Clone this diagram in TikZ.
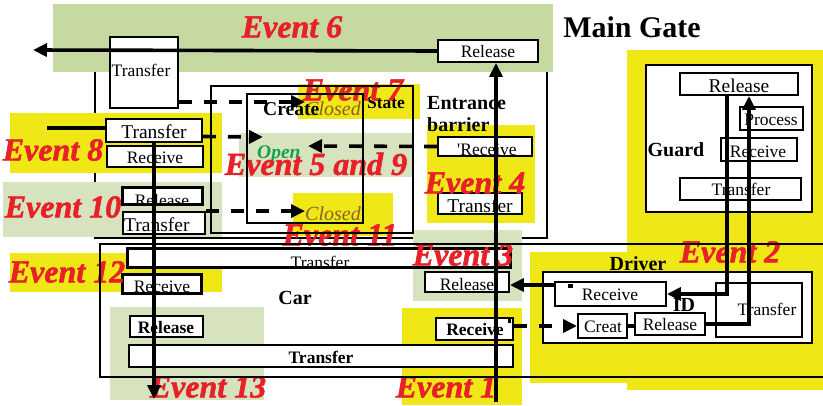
\documentclass[tikz,border=0pt]{standalone}
\usepackage{fontspec}
\setmainfont{Liberation Serif}
\newfontfamily\evfam[BoldItalicFeatures={FakeBold=1.6}]{Liberation Serif}
\usetikzlibrary{arrows.meta}
\definecolor{ylw}{RGB}{240,232,22}
\definecolor{gTop}{RGB}{197,217,161}
\definecolor{gLt}{RGB}{214,227,190}
\definecolor{evred}{RGB}{232,32,40}
\definecolor{brn}{RGB}{140,95,40}
\definecolor{opgreen}{RGB}{20,160,80}
\newcommand{\lfA}{\fontsize{17.5pt}{18pt}\selectfont}
\newcommand{\lfAA}{\fontsize{19.5pt}{20pt}\selectfont}
\newcommand{\lfB}{\fontsize{20pt}{21pt}\selectfont\bfseries}
\newcommand{\lfBs}{\fontsize{17.5pt}{18pt}\selectfont\bfseries}
\newcommand{\lfEv}{\evfam\fontsize{32pt}{32pt}\selectfont\bfseries\itshape}
\newcommand{\lfMG}{\fontsize{30pt}{30pt}\selectfont\bfseries}
\newcommand{\bx}[7][]{\node[box,minimum width={(#5-#3)*1pt},minimum height={(#6-#4)*1pt},#1] (#2) at ({(#3+#5)/2},{(#4+#6)/2}) {#7};}
\begin{document}
\begin{tikzpicture}[x=1pt,y=-1pt,
  box/.style={draw,line width=1.9pt,fill=white,inner sep=0pt},
  lbl/.style={inner sep=0pt,font=\lfA,anchor=base},
  ev/.style={inner sep=0pt,text=evred,font=\lfEv},
  conn/.style={line width=3.6pt},
  arr/.style={conn,-{Triangle[length=14pt,width=13pt]}},
  darr/.style={arr,dash pattern=on 13pt off 12pt}]
\useasboundingbox (0,0) rectangle (823,405);
% main gate frame
\bx[fill=none,line width=1.6pt]{mg}{95}{30}{547}{238}{}
% backgrounds
\fill[gTop] (53,4) rectangle (553,72);
\fill[ylw] (298,84) rectangle (420,119);
\fill[gLt] (239,133) rectangle (414,177);
\fill[ylw] (293,193) rectangle (393,236);
\fill[ylw] (427,125) rectangle (535,223);
\fill[ylw] (10,113) rectangle (222,173);
\fill[gLt] (3,182) rectangle (222,237);
\fill[ylw] (10,253) rectangle (222,292);
\fill[gLt] (110,307) rectangle (264,400);
\fill[gLt] (413,230) rectangle (522,301);
\fill[ylw] (402,308) rectangle (522,405);
\fill[ylw] (627,50) rectangle (823,390);
\fill[ylw] (530,252) rectangle (627,383);
% title
\node[inner sep=0pt,font=\lfMG] (mgt) at (632,27) {Main Gate};
% guard
\bx[line width=2.2pt]{guard}{646}{65}{812}{212}{}
\bx{gRel}{680}{73}{798}{95}{}
\node[lbl,font=\lfAA] (lgRel) at (739,92) {Release};
\bx{gProc}{740}{107}{803}{130}{}
\node[lbl] (lgProc) at (771,125) {Process};
\bx{gRec}{721}{138}{797}{161}{}
\node[lbl] (lgRec) at (758,157) {Receive};
\bx{gTr}{680}{178}{801}{200}{}
\node[lbl] (lgTr) at (741,195) {Transfer};
\node[inner sep=0pt,font=\lfB] (guardt) at (676,150) {Guard};
% driver
\bx[line width=2.2pt]{drv}{543}{272}{812}{343}{}
\node[inner sep=0pt,font=\lfB] (drvt) at (638,264) {Driver};
\bx{dRec}{555}{282}{666}{306}{}
\node[lbl] (ldRec) at (610,300) {Receive};
\bx{idb}{716}{283}{802}{337}{}
\node[lbl] (lidb) at (767,315) {Transfer};
\node[inner sep=0pt,font=\lfB] (idt) at (684,305) {ID};
\bx{creat}{578}{314}{627}{338}{}
\node[lbl] (lcreat) at (603,332) {Creat};
\bx{dRel}{635}{313}{705}{335}{}
\node[lbl] (ldRel) at (670,330) {Release};
\fill (568,284) rectangle (573,288);
% top / left boxes
\bx{trTop}{110}{37}{178}{108}{}
\node[lbl] (ltrTop) at (141,76) {Transfer};
\bx{relTop}{438}{40}{538}{62}{}
\node[lbl] (lrelTop) at (488,57) {Release};
\bx{tr8}{106}{119}{202}{142}{}
\node[lbl,font=\lfAA] (ltr8) at (154,138) {Transfer};
\bx{rc8}{107}{146}{203}{167}{}
\node[lbl] (lrc8) at (155,163) {Receive};
\bx{rl10}{123}{188}{202}{204}{}
\begin{scope}
\clip (rl10.south west) rectangle (rl10.north east);
\node[lbl] (lrl10) at (162,206) {Release};
\end{scope}
\draw[line width=1.9pt] (rl10.south west) rectangle (rl10.north east);
\bx{tr10}{123}{212}{205}{234}{}
\node[lbl,font=\lfAA,anchor=base west] (ltr10) at (124,231.5) {Transfer};
% entrance barrier
\node[inner sep=0pt,font=\lfB,anchor=base west] (ent1) at (427,109) {Entrance};
\node[inner sep=0pt,font=\lfB,anchor=base west] (ent2) at (427,131) {barrier};
\bx{erc}{438}{137}{532}{156}{}
\node[lbl] (lerc) at (487,155) {\textquotesingle Receive};
\bx{etr}{438}{193}{522}{214}{}
\node[lbl,font=\lfAA] (letr) at (480,212) {Transfer};
% state area labels
\node[inner sep=0pt,font=\fontsize{20pt}{20pt}\selectfont\itshape,text=brn,anchor=base west] (clTop) at (305,115) {Closed};
\node[inner sep=0pt,font=\fontsize{19.6pt}{20pt}\selectfont\bfseries,anchor=base west] (crt) at (263,115) {Create};
\node[inner sep=0pt,font=\lfBs,anchor=base] (stt) at (386,108) {State};
\node[inner sep=0pt,font=\fontsize{19.5pt}{20pt}\selectfont\bfseries\itshape,text=opgreen,anchor=base west] (opn) at (257,158) {Open};
\node[inner sep=0pt,font=\fontsize{20pt}{20pt}\selectfont\itshape,text=brn,anchor=base west] (clLow) at (305,220) {Closed};
% car boxes
\bx{ctt}{128}{249}{510}{267}{}
\begin{scope}
\clip (ctt.south west) rectangle (ctt.north east);
\node[lbl] (lctt) at (320,268) {Transfer};
\end{scope}
\draw[line width=1.9pt] (ctt.south west) rectangle (ctt.north east);
\bx{crl}{123}{275}{201}{293}{}
\begin{scope}
\clip (crl.south west) rectangle (crl.north east);
\node[lbl] (lcrl) at (162,292.5) {Receive};
\end{scope}
\draw[line width=1.9pt] (crl.south west) rectangle (crl.north east);
\bx{crr}{425}{272}{509}{292}{}
\node[lbl] (lcrr) at (467,290) {Release};
\bx{cRelL}{130}{316}{203}{337}{}
\node[lbl,font=\lfBs] (lcRelL) at (166,333) {Release};
\bx{cRecR}{436}{318}{513}{340}{}
\node[lbl,font=\lfBs] (lcRecR) at (475,335) {Receive};
\fill (508,319) rectangle (511,323);
\bx{ctb}{129}{345}{513}{367}{}
\node[lbl,font=\lfBs] (lctb) at (321,363) {Transfer};
\node[inner sep=0pt,font=\lfB] (cart) at (295,298) {Car};
% events
\node[ev] (ev6) at (292,27) {Event 6};
\node[ev] (ev7) at (353,90) {Event 7};
\node[ev] (ev8) at (53,150) {Event 8};
\node[ev] (ev59) at (316,164) {Event 5 and 9};
\node[ev] (ev10) at (63,207) {Event 10};
\node[ev] (ev4) at (475,183) {Event 4};
\node[ev] (ev11) at (340,235) {Event 11};
\node[ev] (ev3) at (463,255) {Event 3};
\node[ev] (ev2) at (730,252) {Event 2};
\node[ev] (ev12) at (67,272) {Event 12};
\node[ev] (ev13) at (208,387) {Event 13};
\node[ev] (ev1) at (446,387) {Event 1};
% outline boxes
\bx[fill=none,line width=1.8pt]{state}{211}{86}{413}{233}{}
\bx[fill=none,line width=1.8pt]{crbox}{247}{94}{363}{223}{}
\bx[fill=none,line width=1.6pt]{car}{100}{244}{830}{377}{}
% connectors
\coordinate (e6end) at (33,50);
\draw[arr] (relTop.west) -- (e6end);
\coordinate (e1start) at (496,402);
\draw[arr] (e1start) -- (e1start |- relTop.south);
\coordinate (e13end) at (154,399);
\draw[arr] (tr8.south) -- (e13end);
\coordinate (e8start) at (47,128);
\draw[conn] (e8start) -- (e8start -| tr8.west);
\draw[darr] ([yshift=7pt]trTop.south east) -- ([yshift=7pt]trTop.south east -| clTop.west);
\coordinate (openin) at (263,137);
\draw[darr] ([yshift=-6pt]tr8.east) -- (openin);
\coordinate (opentip) at (308,146);
\draw[darr] (erc.west) -- (opentip);
\draw[darr] (tr10.north east) -- (tr10.north east -| clLow.west);
\draw[darr] (cRecR.east |- creat.west) -- (creat.west);
\draw[arr] ([yshift=9pt]dRec.west) -- ([yshift=9pt]dRec.west -| crr.east);
\draw[arr] ([xshift=-12pt]gRel.south) |- (dRec.east);
\draw[arr] (dRel.east) -| ([xshift=10pt]gRel.south);
\draw[conn] (creat.east) -- (creat.east -| dRel.west);
\end{tikzpicture}
\end{document}
